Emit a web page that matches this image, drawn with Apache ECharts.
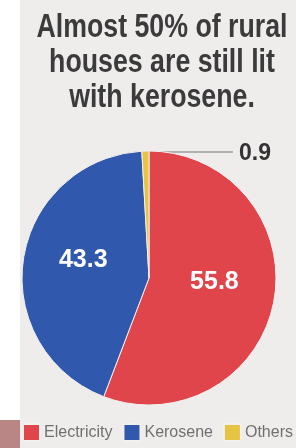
<!DOCTYPE html>
<html>
<head>
<meta charset="utf-8">
<script src="https://cdn.jsdelivr.net/npm/echarts@6/dist/echarts.min.js"></script>
<style>
html, body { margin: 0; padding: 0; background: #fff; }
#chart { width: 296px; height: 448px; }
</style>
</head>
<body>
<div id="chart"></div>
<script>
// share of rural houses by lighting source (%)
var categories = ['Electricity', 'Kerosene', 'Others'];
var shares = [55.8, 43.3, 0.9];
var colors = ['#e0454b', '#3059ad', '#e6c443'];

var titleLines = ['Almost 50% of rural', 'houses are still lit', 'with kerosene.'];

var myChart = echarts.init(document.getElementById('chart'));

var pieData = categories.map(function (name, i) {
	return { name: name, value: shares[i], itemStyle: { color: colors[i] } };
});

var option = {
	backgroundColor: '#efecec',
	animation: false,
	graphic: [
		{ type: 'rect', shape: { x: 0, y: 0, width: 20, height: 448 }, style: { fill: '#ffffff' } },
		{ type: 'rect', shape: { x: 0, y: 420, width: 20, height: 28 }, style: { fill: '#b98585' } },
		{
			// headline, squeezed to look like the condensed newspaper face
			type: 'text',
			x: 162,
			y: 10,
			scaleX: 0.81,
			style: {
				text: titleLines.join('\n'),
				textAlign: 'center',
				textVerticalAlign: 'top',
				fontFamily: '"Liberation Sans", Arial, sans-serif',
				fontWeight: 'bold',
				fontSize: 33,
				lineHeight: 35,
				fill: '#3b3b3b'
			}
		}
	],
	legend: {
		data: categories,
		left: 22,
		top: 423,
		padding: 0,
		itemWidth: 17,
		itemHeight: 17,
		itemGap: 10,
		icon: 'rect',
		textStyle: {
			fontFamily: '"Liberation Sans", sans-serif',
			fontSize: 16,
			color: '#707070',
			padding: [0, 0, 0, -1]
		}
	},
	series: [
		{
			name: 'Lighting',
			type: 'pie',
			center: [149, 278],
			radius: [0, 127],
			startAngle: 90,
			clockwise: true,
			avoidLabelOverlap: false,
			itemStyle: { borderColor: '#f4f0f0', borderWidth: 1 },
			label: {
				show: true,
				position: 'inside',
				formatter: '{c}',
				fontFamily: '"Liberation Sans", Arial, sans-serif',
				fontWeight: 'bold',
				fontSize: 25,
				color: '#ffffff',
				offset: [0, -8]
			},
			data: pieData.map(function (d, i) {
				if (i === 2) {
					d.label = {
						position: 'outside',
						color: '#333333',
						fontWeight: 'bold',
						fontSize: 23,
						fontFamily: '"Liberation Sans", Arial, sans-serif',
						offset: [0, 0]
					};
					d.labelLine = { show: true, lineStyle: { color: '#777777', width: 1 } };
				}
				return d;
			}),
			labelLayout: function (params) {
				if (params.dataIndex !== 2) return {};
				var sx = 149;
				var sy = 278 - 127;
				return {
					x: sx + 106,
					y: sy + 3,
					align: 'center',
					verticalAlign: 'middle',
					labelLinePoints: [[sx, sy + 1], [sx + 42, sy + 1], [sx + 84, sy + 1]]
				};
			}
		}
	]
};

myChart.setOption(option);
</script>
</body>
</html>
